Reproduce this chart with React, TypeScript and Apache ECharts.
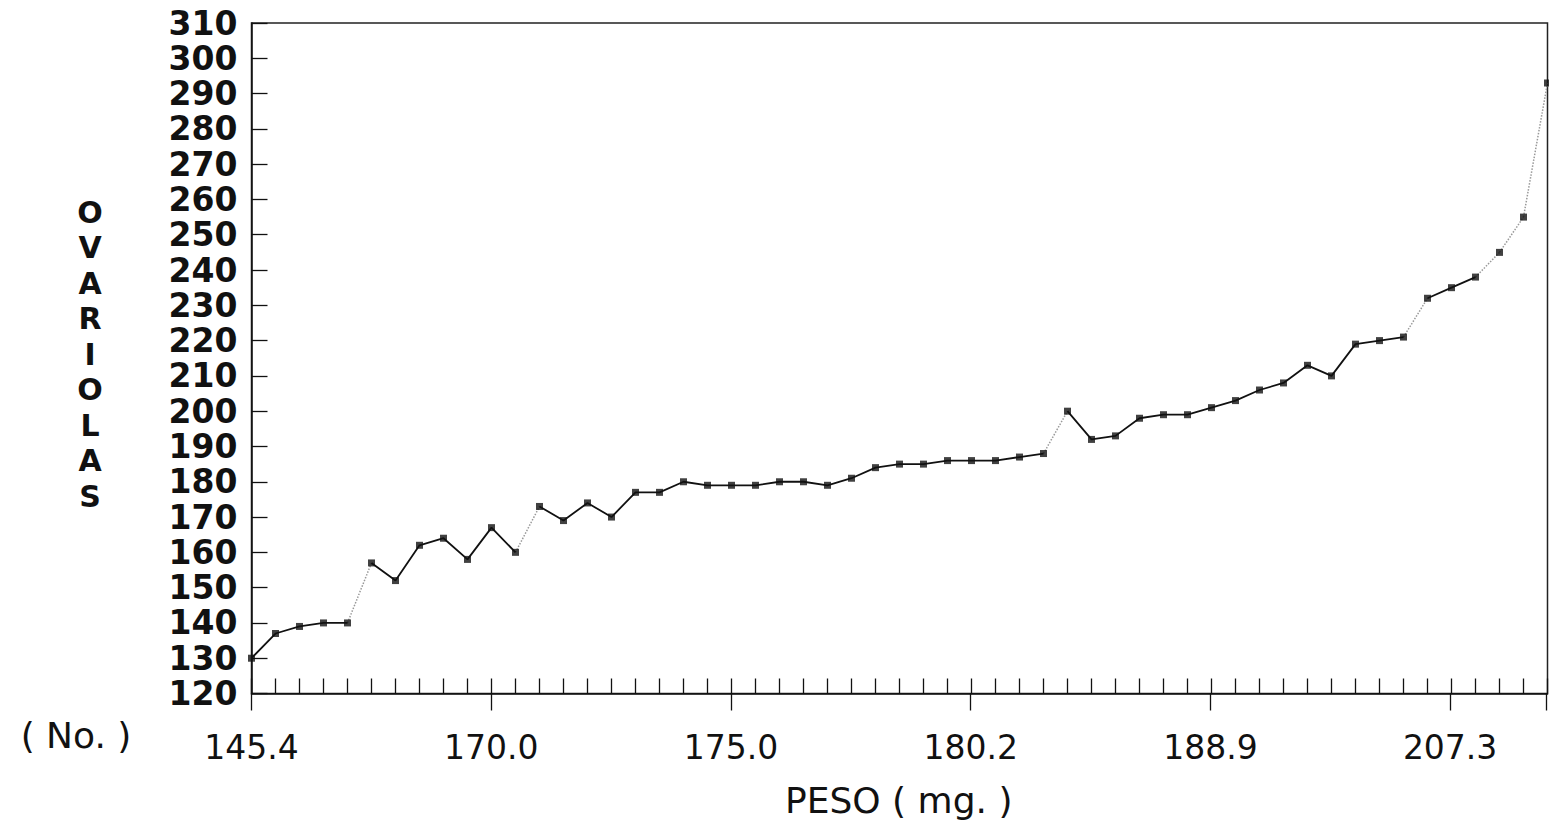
import React, { useEffect, useRef } from 'react';
import * as echarts from 'echarts';

// Tick labels shown under every 10th specimen (PESO, mg)
const pesoTickLabels = ['145.4', '170.0', '175.0', '180.2', '188.9', '207.3'];
const pesoTickStep = 10;

// Number of ovarioles per specimen, ordered by weight
const ovariolas = [
  130, 137, 139, 140, 140, 157, 152, 162, 164, 158,
  167, 160, 173, 169, 174, 170, 177, 177, 180, 179,
  179, 179, 180, 180, 179, 181, 184, 185, 185, 186,
  186, 186, 187, 188, 200, 192, 193, 198, 199, 199,
  201, 203, 206, 208, 213, 210, 219, 220, 221, 232,
  235, 238, 245, 255, 293,
];

// Segments (start index) drawn as faint dotted lines in the original plot
const faintSegmentStarts = [4, 11, 33, 48, 51, 52, 53];

const yMin = 120;
const yMax = 310;
const yStep = 10;

const FONT = 'DejaVu Sans';

export default function App() {
  const ref = useRef<HTMLDivElement>(null);

  useEffect(() => {
    if (!ref.current) return;
    const chart = echarts.init(ref.current, null, { renderer: 'svg' });

    const points = ovariolas.map((v, i) => [i, v]);
    const xMax = points.length - 1;

    const runs: number[][][] = [];
    let cur: number[][] = [points[0]];
    for (let i = 1; i < points.length; i++) {
      if (faintSegmentStarts.includes(i - 1)) {
        runs.push(cur);
        cur = [points[i]];
      } else {
        cur.push(points[i]);
      }
    }
    runs.push(cur);

    const solidSeries = runs
      .filter((r) => r.length > 1)
      .map((r) => ({
        type: 'line',
        xAxisIndex: 0,
        yAxisIndex: 0,
        data: r,
        symbol: 'none',
        lineStyle: { color: '#111', width: 1.8 },
        z: 3,
      }));

    const faintSeries = faintSegmentStarts.map((s) => ({
      type: 'line',
      xAxisIndex: 0,
      yAxisIndex: 0,
      data: [points[s], points[s + 1]],
      symbol: 'none',
      lineStyle: { color: '#999', width: 1.5, type: 'dotted' },
      z: 2,
    }));

    const plotLeft = 251.5;
    const plotRight = 1.5;
    const plotTop = 23;
    const plotBottom = 132.5;

    chart.setOption({
      animation: false,
      backgroundColor: '#ffffff',
      textStyle: { fontFamily: FONT },
      grid: [
        {
          left: plotLeft,
          right: plotRight,
          top: plotTop,
          bottom: plotBottom,
          show: true,
          borderColor: '#222',
          borderWidth: 1.5,
          backgroundColor: 'transparent',
        },
        {
          left: plotLeft,
          right: plotRight,
          top: plotTop,
          bottom: plotBottom,
          show: false,
        },
      ],
      xAxis: [
        {
          type: 'value',
          gridIndex: 0,
          min: 0,
          max: xMax,
          interval: 1,
          axisLine: { show: true, lineStyle: { color: '#111', width: 1.5 } },
          axisTick: { show: true, inside: true, length: 15, lineStyle: { color: '#111', width: 1.3 } },
          axisLabel: { show: false },
          splitLine: { show: false },
        },
        {
          type: 'value',
          gridIndex: 1,
          min: 0,
          max: xMax,
          interval: pesoTickStep,
          axisLine: { show: false },
          axisTick: { show: true, inside: false, length: 17, lineStyle: { color: '#111', width: 1.3 } },
          axisLabel: {
            show: true,
            margin: 37,
            color: '#111',
            fontFamily: FONT,
            fontSize: 33,
            formatter: (v: number) => {
              if (v % pesoTickStep !== 0) return '';
              return pesoTickLabels[v / pesoTickStep] ?? '';
            },
          },
          splitLine: { show: false },
          name: 'PESO ( mg. )',
          nameLocation: 'middle',
          nameGap: 89,
          nameTextStyle: { color: '#111', fontFamily: FONT, fontSize: 36 },
        },
      ],
      yAxis: [
        {
          type: 'value',
          gridIndex: 0,
          min: yMin,
          max: yMax,
          interval: yStep,
          axisLine: { show: true, lineStyle: { color: '#111', width: 1.5 } },
          axisTick: { show: true, inside: true, length: 16, lineStyle: { color: '#111', width: 1.3 } },
          axisLabel: {
            show: true,
            margin: 14,
            color: '#111',
            fontFamily: FONT,
            fontWeight: 'bold',
            fontSize: 33,
          },
          splitLine: { show: false },
        },
        {
          type: 'value',
          gridIndex: 1,
          min: yMin,
          max: yMax,
          show: false,
        },
      ],
      graphic: [
        {
          type: 'text',
          x: 90,
          y: 354,
          style: {
            text: 'O\nV\nA\nR\nI\nO\nL\nA\nS',
            fill: '#111',
            font: `bold 30px "${FONT}"`,
            lineHeight: 35.5,
            textAlign: 'center',
            textVerticalAlign: 'middle',
          },
        },
        {
          type: 'text',
          x: 76,
          y: 735,
          style: {
            text: '( No. )',
            fill: '#111',
            font: `36px "${FONT}"`,
            textAlign: 'center',
            textVerticalAlign: 'middle',
          },
        },
      ],
      series: [
        ...faintSeries,
        ...solidSeries,
        {
          type: 'scatter',
          xAxisIndex: 0,
          yAxisIndex: 0,
          data: points,
          symbol: 'rect',
          symbolSize: 7,
          itemStyle: { color: '#111' },
          z: 4,
        },
      ],
    });

    return () => chart.dispose();
  }, []);

  return (
    <div
      ref={ref}
      style={{ position: 'fixed', left: 0, top: 0, width: 1549, height: 826, background: '#fff' }}
    />
  );
}
